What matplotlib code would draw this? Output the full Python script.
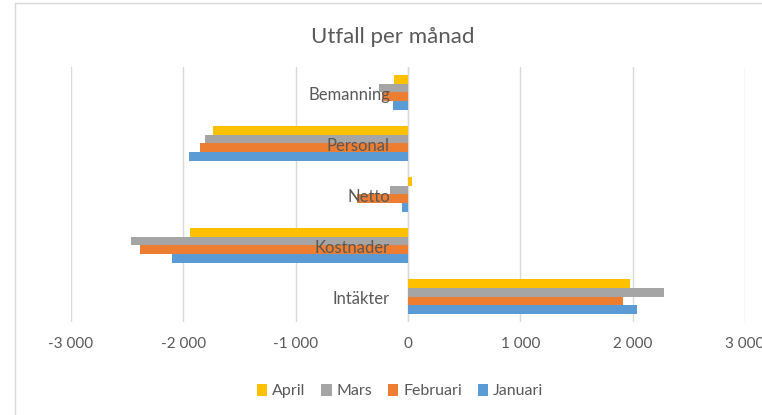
import matplotlib
matplotlib.use("Agg")
import matplotlib.pyplot as plt
from matplotlib.patches import Rectangle
from matplotlib.ticker import FuncFormatter, MultipleLocator
import numpy as np

plt.rcParams['font.family'] = ['Lato', 'DejaVu Sans']

categories = ["Intäkter", "Kostnader", "Netto", "Personal", "Bemanning"]
series_names = ["Januari", "Februari", "Mars", "April"]
januari = [2040, -2098, -54, -1949, -134]
februari = [1918, -2384, -453, -1851, -232]
mars = [2283, -2464, -163, -1803, -259]
april = [1978, -1937, 35, -1732, -128]
colors = ["#5B9BD5", "#ED7D31", "#A5A5A5", "#FFC000"]
title = "Utfall per månad"

W, H = 762, 415
fig = plt.figure(figsize=(W / 100, H / 100), dpi=100)
fig.patch.set_facecolor("white")

# outer chart border (cropped on the right/bottom)
fig.patches.append(Rectangle((15 / W, -0.1), 1.2, (H - 3) / H + 0.1,
                             transform=fig.transFigure, fill=False,
                             edgecolor="#D9D9D9", linewidth=1.0))

left, right, top, bottom = 71, 745, 67, 322
ax = fig.add_axes([left / W, 1 - bottom / H, (right - left) / W, (bottom - top) / H])

data = [januari, februari, mars, april]
y = np.arange(len(categories))
bh = 0.17
offsets = (np.arange(len(series_names)) - 1.5) * bh
for vals, name, col, off in zip(data, series_names, colors, offsets):
    ax.barh(y + off, vals, height=bh, color=col, label=name, zorder=2)

ax.set_xlim(-3000, 3000)
ax.set_ylim(-0.5, len(categories) - 0.5)
ax.xaxis.set_major_locator(MultipleLocator(1000))
ax.xaxis.set_major_formatter(FuncFormatter(lambda v, p: f"{v:,.0f}".replace(",", " ")))
ax.grid(axis="x", color="#D9D9D9", linewidth=1.0, zorder=0)
ax.set_axisbelow(True)
for s in ax.spines.values():
    s.set_visible(False)
ax.axvline(0, color="#D9D9D9", linewidth=1.0, zorder=1.5)
ax.set_yticks([])
ax.tick_params(axis="x", length=0, pad=11, labelsize=11, labelcolor="#595959")

for i, cat in enumerate(categories):
    ax.annotate(cat, xy=(0, i), xytext=(-13, -1.5), textcoords="offset points",
                ha="right", va="center", fontsize=12, color="#595959", zorder=5)

fig.text(393 / W, 1 - 37 / H, title, ha="center", va="center", fontsize=16, color="#595959")

handles, labels = ax.get_legend_handles_labels()
leg = fig.legend(handles[::-1], labels[::-1], loc="center", bbox_to_anchor=(400 / W, 1 - 391 / H),
                 ncol=4, frameon=False, fontsize=11.5, handlelength=0.65, handleheight=0.8,
                 handletextpad=0.3, columnspacing=1.0, labelcolor="#595959")

fig.savefig("out.png", dpi=100, facecolor="white")
